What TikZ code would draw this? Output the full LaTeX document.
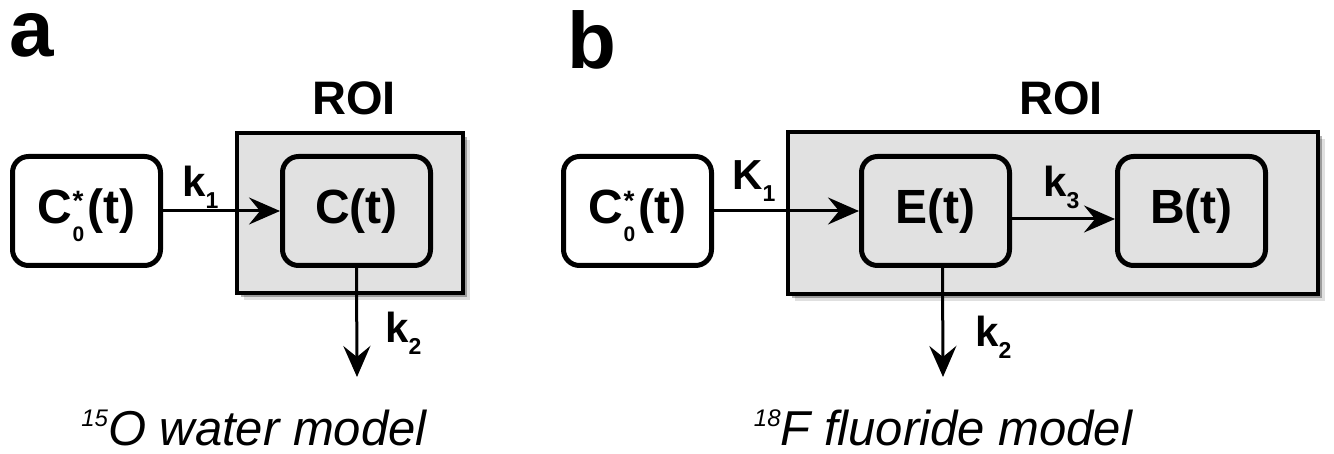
\documentclass[tikz,border=0pt]{standalone}
\usepackage{fontspec}
\setmainfont{Liberation Sans}
\usetikzlibrary{arrows.meta,shadows}
\definecolor{roigray}{RGB}{225,225,225}
\newcommand{\ksub}[2]{#1\raisebox{-12pt}[0pt][0pt]{\fontsize{23}{23}\selectfont #2}}
\newcommand{\cstar}{C\makebox[0pt][l]{\raisebox{13pt}[0pt][0pt]{\fontsize{28}{28}\selectfont *}}\raisebox{-18pt}[0pt][0pt]{\fontsize{21}{21}\selectfont 0}\kern3pt(t)}
\begin{document}
\begin{tikzpicture}[x=1pt,y=-1pt,
  box/.style={draw=black, line width=5pt, rounded corners=16pt, minimum width=148pt, minimum height=109pt, inner sep=0pt, font=\fontsize{48}{48}\selectfont\bfseries},
  roi/.style={draw=black, line width=4pt, fill=roigray, inner sep=0pt,
    drop shadow={shadow xshift=7pt, shadow yshift=-7pt, fill=black, opacity=0.12},
    drop shadow={shadow xshift=4pt, shadow yshift=-4pt, fill=black, opacity=0.3}},
  arr/.style={line width=3pt, -{Stealth[length=31pt, width=27pt, inset=11pt]}},
  klabel/.style={anchor=base west, inner sep=0pt, font=\fontsize{42}{42}\selectfont\bfseries},
  roilabel/.style={anchor=base, inner sep=0pt, font=\fontsize{47}{47}\selectfont\bfseries},
  panel/.style={anchor=base, inner sep=0pt, font=\fontsize{80}{80}\selectfont\bfseries},
  caption/.style={anchor=base, inner sep=0pt, font=\fontsize{49}{49}\selectfont\itshape}
]
\useasboundingbox (0,0) rectangle (1334,454);
\fill[white] (0,0) rectangle (1334,454);

% ---------- panel a ----------
\node[panel, text height=0.55em] (pa) at (32,57) {a};
\node[roi, minimum width=226pt, minimum height=160pt] (roiA) at (350,213) {};
\node[roilabel] (roiAl) at (354,115) {ROI};
\node[box, fill=white] (C0a) at (86.5,211) {\cstar};
\node[box, fill=roigray] (Ca) at (356.5,211) {C(t)};
\draw[arr] (C0a.east) -- (Ca.west);
\coordinate (k2aend) at (357,377);
\draw[arr] (Ca.south) -- (k2aend);
\node[klabel] (k1a) at (182,197) {\ksub{k}{1}};
\node[klabel] (k2a) at (385,343) {\ksub{k}{2}};
\node[caption] (capA) at (254,445) {\raisebox{19pt}{\fontsize{24}{24}\selectfont 15}O water model};

% ---------- panel b ----------
\node[panel] (pb) at (592,69) {b};
\node[roi, minimum width=530pt, minimum height=162pt] (roiB) at (1053,213) {};
\node[roilabel] (roiBl) at (1061,115) {ROI};
\node[box, fill=white] (C0b) at (637.5,211) {\cstar};
\node[box, fill=roigray] (Eb) at (935.5,211) {E(t)};
\node[box, fill=roigray] (Bb) at (1191.5,211) {B(t)};
\draw[arr] (C0b.east) -- (Eb.west);
\draw[arr] ([yshift=-8pt]Eb.east) -- ([yshift=-8pt]Bb.west);
\coordinate (k2bend) at (943,377);
\draw[arr] ([xshift=7pt]Eb.south) -- (k2bend);
\node[klabel] (K1b) at (732,190) {\ksub{K}{1}};
\node[klabel] (k3b) at (1043,197) {\ksub{k}{3}};
\node[klabel] (k2b) at (975,347) {\ksub{k}{2}};
\node[caption] (capB) at (943,445) {\raisebox{19pt}{\fontsize{24}{24}\selectfont 18}F fluoride model};
\end{tikzpicture}
\end{document}
